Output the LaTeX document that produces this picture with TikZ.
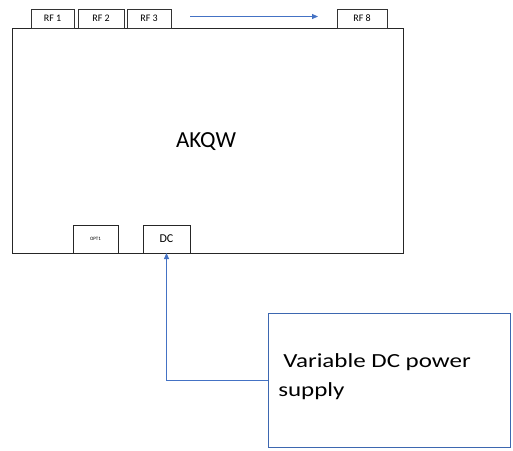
\documentclass[tikz,border=0pt]{standalone}
\usepackage{fontspec}
\setmainfont{Carlito}
\usetikzlibrary{positioning,arrows.meta}
\definecolor{officeblue}{RGB}{68,114,196}
\tikzset{
    portbox/.style={draw=black!80, line width=0.9pt, inner sep=0pt, outer sep=0pt, minimum height=19pt, font=\fontsize{10}{11}\selectfont},
    lowport/.style={draw=black!85, line width=0.9pt, inner sep=0pt, outer sep=0pt, minimum height=28pt},
    bluearrow/.style={officeblue, line width=0.8pt, -{Triangle[length=6pt,width=5pt]}}
}
\begin{document}
\begin{tikzpicture}[x=1pt,y=1pt]
    % Fix the page size
    \useasboundingbox (0,0) rectangle (513,-450);

    % Add the main box
    \node[draw=black!85, line width=1pt, inner sep=0pt, outer sep=0pt, minimum width=391pt, minimum height=225pt] (akqw) at (207.5,-140.5) {};
    \node[font=\fontsize{23}{25}\selectfont] (label) at (206,-142) {AKQW};

    % Add the RF ports on top
    \node[portbox, minimum width=43pt, anchor=south west] (rf1) at (31,-28) {RF 1};
    \node[portbox, minimum width=46pt, right=4pt of rf1] (rf2) {RF 2};
    \node[portbox, minimum width=44pt, right=3pt of rf2] (rf3) {RF 3};
    \node[portbox, minimum width=50pt, anchor=south west] (rf8) at (337,-28) {RF 8};
    % Add the arrow towards the last port
    \draw[bluearrow] ([xshift=19pt,yshift=2pt]rf3.east) -- ([xshift=-19pt,yshift=2pt]rf8.west);

    % Add the ports at the bottom
    \node[lowport, minimum width=45pt, anchor=south west, font=\fontsize{5}{6}\selectfont] (opt1) at (73,-253) {OPT1};
    \node[lowport, minimum width=47pt, anchor=south west, font=\fontsize{12}{13}\selectfont] (dc) at (143,-253) {DC};

    % Add the power supply
    \node[draw=officeblue!90!black, line width=0.9pt, inner sep=0pt, outer sep=0pt, minimum width=242pt, minimum height=134pt] (supply) at (389,-380) {};
    \node[anchor=north west, align=left, inner sep=0pt, xscale=1.25, transform shape, font=\fontsize{20}{29}\selectfont] (supplytext) at (278,-353) {\hspace{4pt}Variable DC power\\supply};

    % Add the feed from the supply to the DC port
    \draw[bluearrow] (supply.west) -| (dc.south);
\end{tikzpicture}
\end{document}
